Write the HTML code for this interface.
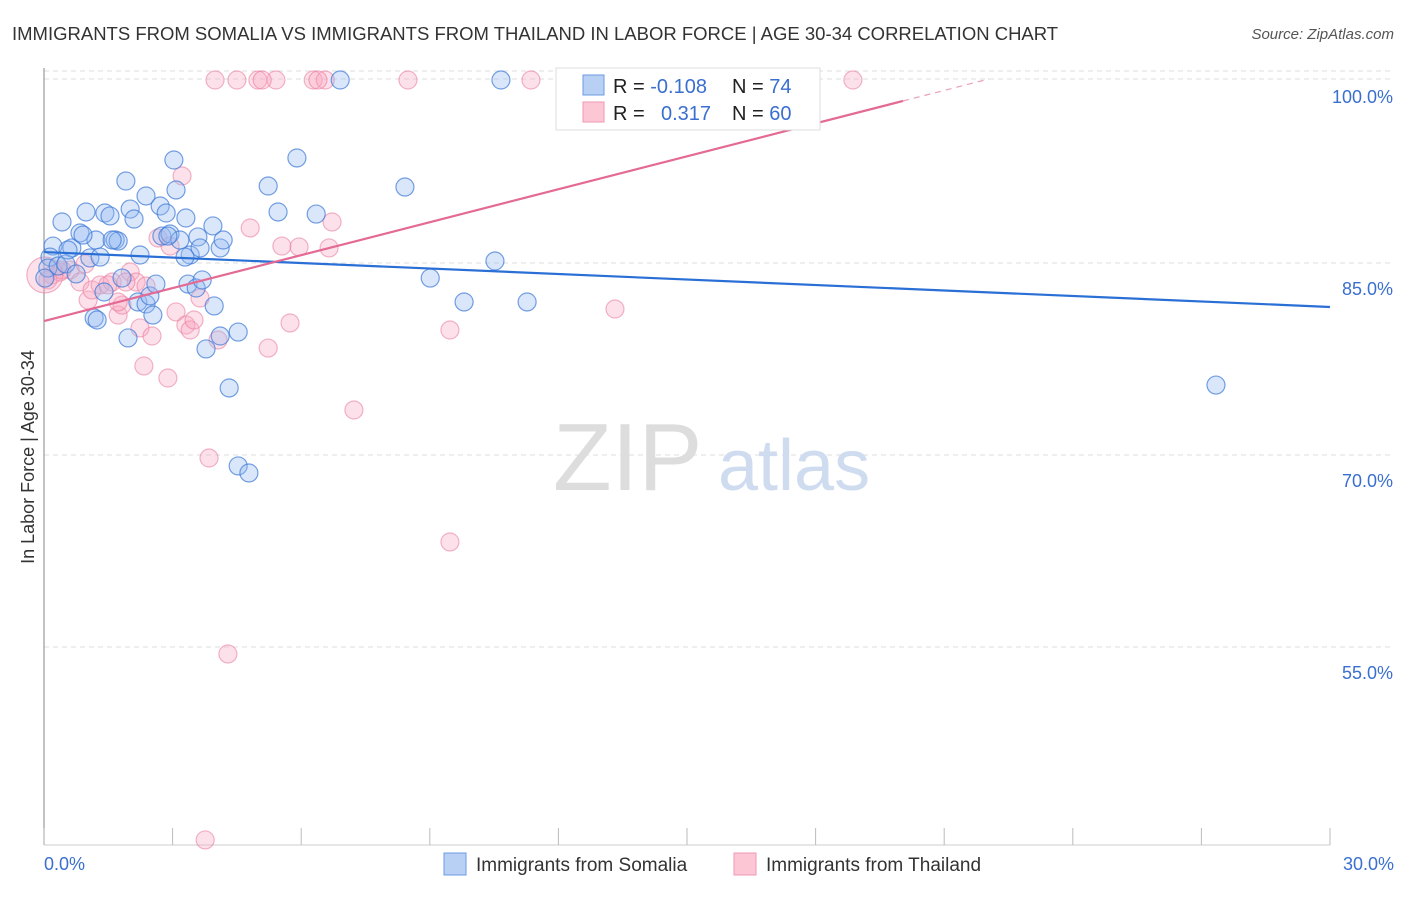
<!DOCTYPE html>
<html><head><meta charset="utf-8"><style>
body{margin:0;background:#fff;font-family:"Liberation Sans",sans-serif;}
svg text{font-family:"Liberation Sans",sans-serif;}
</style></head><body>
<svg width="1406" height="892" xmlns="http://www.w3.org/2000/svg">
<text x="12" y="40" font-size="18.5" fill="#333">IMMIGRANTS FROM SOMALIA VS IMMIGRANTS FROM THAILAND IN LABOR FORCE | AGE 30-34 CORRELATION CHART</text>
<text x="1394" y="39" font-size="15" fill="#555" font-style="italic" text-anchor="end">Source: ZipAtlas.com</text>
<g id="grid"></g>
<g>
<text x="553" y="490" font-size="96" font-family="Liberation Serif" fill="#ddd">ZIP</text>
<text x="718" y="490" font-size="72" fill="#cfdcf0">atlas</text>
</g>
<line x1="44" y1="68" x2="44" y2="845" stroke="#999" stroke-width="1.2"/>
<line x1="44" y1="845" x2="1330" y2="845" stroke="#ccc" stroke-width="1"/>
<g id="ticks"></g>
<g id="ylabels"></g>
<text transform="translate(34,457) rotate(-90)" font-size="18" fill="#333" text-anchor="middle">In Labor Force | Age 30-34</text>
<text x="44" y="870" font-size="18" fill="#3a6fd0">0.0%</text>
<text x="1394" y="870" font-size="18" fill="#3a6fd0" text-anchor="end">30.0%</text>
<g id="pinkPts"></g>
<g id="bluePts"></g>
<g id="lines"></g>
<g>
<rect x="556" y="68" width="264" height="62" fill="#fff" stroke="#ddd"/>
<rect x="583" y="75" width="21" height="20" fill="#b9d0f5" stroke="#6b9be0"/>
<rect x="583" y="102" width="21" height="20" fill="#fcc6d5" stroke="#ee9ab2"/>
<text x="613" y="93" font-size="20" fill="#222">R = <tspan fill="#3a6fd0">-0.108</tspan><tspan x="732">N = </tspan><tspan fill="#3a6fd0">74</tspan></text>
<text x="613" y="120" font-size="20" fill="#222">R = <tspan x="661" fill="#3a6fd0">0.317</tspan><tspan x="732">N = </tspan><tspan fill="#3a6fd0">60</tspan></text>
</g>
<g>
<rect x="444" y="853" width="22" height="22" fill="#b9d0f5" stroke="#6b9be0"/>
<text x="476" y="871" font-size="19" fill="#333">Immigrants from Somalia</text>
<rect x="734" y="853" width="22" height="22" fill="#fcc6d5" stroke="#ee9ab2"/>
<text x="766" y="871" font-size="19" fill="#333">Immigrants from Thailand</text>
</g>
</svg>
<script>
const yTicks=[100,85,70,55];
const yTickLabels=["100.0%","85.0%","70.0%","55.0%"];
const xTicks=[0,3,6,9,12,15,18,21,24,27,30];
const blueX=[0.21,0.14,0.42,0.65,0.84,0.98,1.07,1.21,1.31,1.42,1.54,1.66,1.73,1.91,2.01,2.10,2.24,2.38,2.71,2.75,2.85,2.94,3.03,3.08,3.17,3.31,3.41,3.59,3.64,3.94,4.11,4.18,5.23,5.46,5.90,6.35,6.91,10.66,8.42,10.52,9.01,9.80,11.27,27.34,0.09,0.33,0.51,0.75,1.17,1.24,1.40,1.82,1.96,2.19,2.38,2.47,2.54,2.61,3.36,3.55,3.69,3.97,3.78,4.11,4.53,4.32,4.53,4.78,0.02,2.89,3.29,1.59,0.91,0.56];
const blueY=[86.95,86.09,88.83,86.80,87.97,89.61,86.02,87.42,86.09,89.53,89.30,87.42,87.34,92.03,89.84,89.06,86.25,90.86,90.08,87.73,89.53,87.89,93.67,91.33,87.42,89.14,86.25,87.66,86.80,88.52,86.80,87.42,91.64,89.61,93.83,89.45,99.92,99.92,91.56,85.78,84.45,82.58,82.58,76.09,85.23,85.39,85.55,84.77,81.33,81.17,83.36,84.45,79.77,82.58,82.42,83.05,81.56,83.98,83.98,83.67,84.30,82.27,78.91,79.92,80.23,75.86,69.77,69.22,84.45,87.73,86.09,87.42,87.81,86.64];
const pinkX=[3.99,4.50,4.99,5.41,6.28,6.56,8.49,11.36,12.41,18.87,17.68,5.09,6.39,3.22,4.81,5.55,5.95,6.65,6.72,2.66,2.94,0.61,0.84,1.03,1.12,1.31,1.59,1.73,1.82,2.01,2.15,2.24,2.33,2.38,2.52,2.89,3.08,3.31,3.41,3.50,3.64,4.06,5.23,5.74,7.23,9.47,13.32,3.85,9.47,4.29,3.76,0.19,0.37,0.09,0.96,1.73,1.49,1.91,0.42,0.02];
const pinkY=[99.92,99.92,99.92,99.92,99.92,99.92,99.92,99.92,99.92,99.92,99.92,99.92,99.92,92.42,88.36,86.95,86.88,86.80,88.83,87.58,86.95,85.08,84.14,82.73,83.52,83.91,84.14,81.56,82.34,84.92,84.14,80.55,77.58,83.83,79.92,76.64,81.80,80.78,80.39,81.17,82.89,79.61,78.98,80.94,74.14,80.39,82.03,70.39,63.83,55.08,40.55,84.69,84.92,84.30,85.55,82.58,83.91,84.14,85.08,84.69];
const pinkR=[9,9,9,9,9,9,9,9,9,9,9,9,9,9,9,9,9,9,9,9,9,9,9,9,9,9,9,9,9,9,9,9,9,9,9,9,9,9,9,9,9,9,9,9,9,9,9,9,9,9,9,9,9,9,9,9,9,9,9,18];
const blueTrend=[86.48,82.19];
const pinkTrend=[81.09,0.858];
const X=v=>44+v/30*1286, Y=v=>79+(100-v)*12.8;
const NS="http://www.w3.org/2000/svg";
function mk(t,a,p){const e=document.createElementNS(NS,t);for(const k in a)e.setAttribute(k,a[k]);p.appendChild(e);return e;}
const grid=document.getElementById('grid');
mk('line',{x1:44,y1:79,x2:1394,y2:79,stroke:'#ddd','stroke-dasharray':'5,4'},grid);
yTicks.forEach((t,i)=>{const l=mk('line',{x1:44,y1:Y(t)-8,x2:1394,y2:Y(t)-8,stroke:'#ddd','stroke-dasharray':'5,4'},grid);


const tx=mk('text',{x:1393,y:Y(t)+24,'font-size':18,fill:'#3a6fd0','text-anchor':'end'},document.getElementById('ylabels'));tx.textContent=yTickLabels[i];

});
xTicks.forEach(t=>{const l=mk('line',{x1:X(t),y1:828,x2:X(t),y2:845,stroke:'#bbb'},document.getElementById('ticks'));

});
const pg=document.getElementById('pinkPts');
pinkX.forEach((x,i)=>{const c=mk('circle',{cx:X(x),cy:Y(pinkY[i]),r:pinkR[i],fill:'rgba(248,170,195,0.35)',stroke:'rgba(232,120,155,0.55)','stroke-width':1.2},pg);

});
const bg=document.getElementById('bluePts');
blueX.forEach((x,i)=>{const c=mk('circle',{cx:X(x),cy:Y(blueY[i]),r:9,fill:'rgba(150,185,240,0.35)',stroke:'rgba(60,120,215,0.7)','stroke-width':1.2},bg);

});
const lg=document.getElementById('lines');
const bl=mk('line',{x1:X(0),y1:Y(blueTrend[0]),x2:X(30),y2:Y(blueTrend[1]),stroke:'#2a6fd6','stroke-width':2.2},lg);


const pEnd=20.04, pMax=(100-pinkTrend[0])/pinkTrend[1];
const pl=mk('line',{x1:X(0),y1:Y(pinkTrend[0]),x2:X(pEnd),y2:Y(pinkTrend[0]+pinkTrend[1]*pEnd),stroke:'#e46a94','stroke-width':2.2},lg);


const pd=mk('line',{x1:X(pEnd),y1:Y(pinkTrend[0]+pinkTrend[1]*pEnd),x2:X(pMax),y2:Y(100),stroke:'#eaa0b8','stroke-width':1.2,'stroke-dasharray':'6,5'},lg);


</script>
</body></html>
